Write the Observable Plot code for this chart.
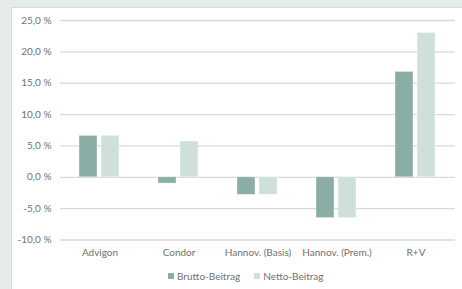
<!DOCTYPE html>
<html>
<head>
<meta charset="utf-8">
<script src="https://cdn.jsdelivr.net/npm/d3@7"></script>
<script src="https://cdn.jsdelivr.net/npm/@observablehq/plot@0.6"></script>
<style>
  html, body { margin: 0; padding: 0; }
  body { width: 462px; height: 289px; background: #e6ecec; position: relative; overflow: hidden; font-family: Lato, "Open Sans", sans-serif; }
  #panel { position: absolute; left: 11px; top: 7px; width: 460px; height: 290px; background: #fff; border: 1px solid #d6dddd; box-sizing: border-box; }
  #chart { position: absolute; left: 0; top: 0; }
  #legend { position: absolute; left: 168px; top: 270px; display: flex; gap: 14px; font-size: 10px; color: #707070; line-height: 12px; }
  #legend .item { display: flex; align-items: center; gap: 3px; }
  #legend .sw { width: 6px; height: 6px; display: inline-block; }
</style>
</head>
<body>
<div id="panel"></div>
<div id="chart"></div>
<div id="legend"></div>
<script>
const categories = ["Advigon", "Condor", "Hannov. (Basis)", "Hannov. (Prem.)", "R+V"];
const series = ["Brutto-Beitrag", "Netto-Beitrag"];
const brutto = [6.6, -1.0, -2.8, -6.5, 16.8];
const netto = [6.6, 5.7, -2.8, -6.5, 23.0];
const yTicks = [-10, -5, 0, 5, 10, 15, 20, 25];
const colors = ["#8aada5", "#cfdfdb"];

const data = [];
categories.forEach((c, i) => {
  data.push({category: c, series: series[0], value: brutto[i]});
  data.push({category: c, series: series[1], value: netto[i]});
});

const fmt = d => d.toFixed(1).replace(".", ",") + " %";

const chart = Plot.plot({
  width: 462,
  height: 262,
  marginLeft: 60,
  marginRight: 7,
  marginTop: 20,
  marginBottom: 22.5,
  style: {background: "transparent", fontFamily: "Lato, 'Open Sans', sans-serif", fontSize: "10px", color: "#707070"},
  fx: {domain: categories, padding: 0, label: null, axis: "bottom", tickSize: 0, tickPadding: 9},
  x: {domain: series, axis: null, paddingInner: 0.18, paddingOuter: 0.885},
  y: {domain: [-10, 25], ticks: yTicks, tickFormat: fmt, tickSize: 0, tickPadding: 9, label: null},
  color: {domain: series, range: colors},
  marks: [
    Plot.ruleY(yTicks, {stroke: "#d9d9d9", strokeWidth: 1.3}),
    Plot.barY(data, {fx: "category", x: "series", y: "value", fill: "series", stroke: "#ffffff", strokeOpacity: 0.35, strokeWidth: 1})
  ]
});
document.getElementById("chart").appendChild(chart);

const legend = document.getElementById("legend");
series.forEach((s, i) => {
  const item = document.createElement("span");
  item.className = "item";
  const sw = document.createElement("span");
  sw.className = "sw";
  sw.style.background = colors[i];
  const t = document.createElement("span");
  t.textContent = s;
  item.appendChild(sw);
  item.appendChild(t);
  legend.appendChild(item);
});
</script>
</body>
</html>
